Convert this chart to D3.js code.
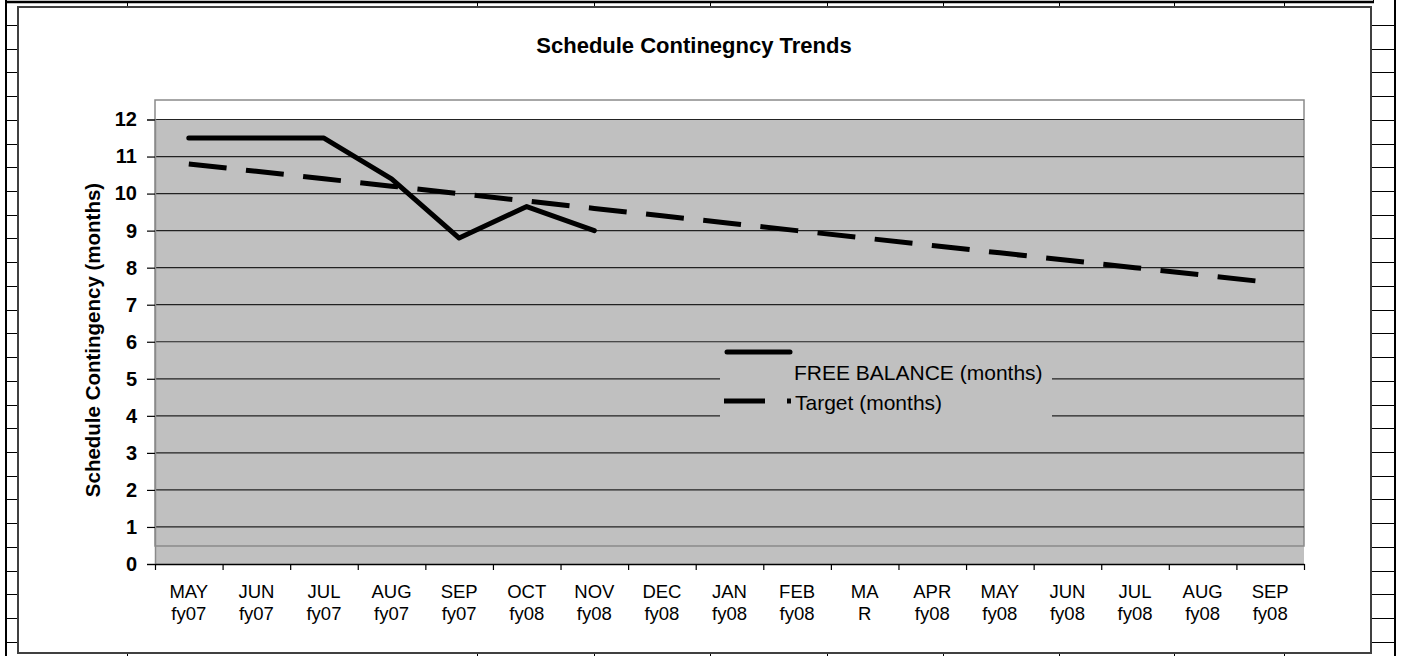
<!DOCTYPE html>
<html>
<head>
<meta charset="utf-8">
<script src="https://cdn.jsdelivr.net/npm/d3@7"></script>
<style>
    body { margin: 0; background: #fff; }
    svg { display: block; font-family: "Liberation Sans", Arial, sans-serif; }
</style>
</head>
<body>
<svg id="chart"></svg>
<script>
const monthLabels = ["MAY", "JUN", "JUL", "AUG", "SEP", "OCT", "NOV", "DEC", "JAN", "FEB", "MA", "APR", "MAY", "JUN", "JUL", "AUG", "SEP"];
const yearLabels = ["fy07", "fy07", "fy07", "fy07", "fy07", "fy08", "fy08", "fy08", "fy08", "fy08", "R", "fy08", "fy08", "fy08", "fy08", "fy08", "fy08"];
const freeBalance = [11.5, 11.5, 11.5, 10.4, 8.8, 9.65, 9.0];
const target = [10.8, 10.6, 10.4, 10.2, 10.0, 9.8, 9.6, 9.4, 9.2, 9.0, 8.8, 8.6, 8.4, 8.2, 8.0, 7.8, 7.6];
const yTicks = [0, 1, 2, 3, 4, 5, 6, 7, 8, 9, 10, 11, 12];
const seriesNames = ["FREE BALANCE (months)", "Target (months)"];

const WIDTH = 1403;
const HEIGHT = 656;
const PLOT = { left: 155, right: 1304, top: 100, bottom: 564, yTop: 119.5, border: 546 };

const svg = d3.select("#chart")
    .attr("width", WIDTH)
    .attr("height", HEIGHT);

// spreadsheet cells behind the chart object
const sheetCols = [127, 477, 594, 710, 827, 943, 1059, 1174, 1284];
const sheetRows = d3.range(25, 650, 23.72);
const sheet = svg.append("g").attr("stroke", "#000");
sheet.append("line").attr("x1", 5).attr("x2", 1374).attr("y1", 2).attr("y2", 2).attr("stroke-width", 2.5);
sheet.append("line").attr("x1", 6).attr("x2", 6).attr("y1", 0).attr("y2", HEIGHT).attr("stroke-width", 2);
sheet.append("line").attr("x1", 1395).attr("x2", 1395).attr("y1", 0).attr("y2", HEIGHT).attr("stroke-width", 2);
sheet.append("line").attr("x1", 1373.5).attr("x2", 1373.5).attr("y1", 0).attr("y2", 3).attr("stroke-width", 1);
sheetRows.forEach(r => {
    sheet.append("line").attr("x1", 6).attr("x2", 18).attr("y1", Math.round(r) + 0.5).attr("y2", Math.round(r) + 0.5);
    sheet.append("line").attr("x1", 1371).attr("x2", 1395).attr("y1", Math.round(r) + 0.5).attr("y2", Math.round(r) + 0.5);
});
sheetCols.forEach(c => {
    sheet.append("line").attr("x1", c + 0.5).attr("x2", c + 0.5).attr("y1", 2).attr("y2", 7);
    sheet.append("line").attr("x1", c + 0.5).attr("x2", c + 0.5).attr("y1", 653).attr("y2", HEIGHT);
});

// chart object border
svg.append("rect")
    .attr("x", 18).attr("y", 7)
    .attr("width", 1353).attr("height", 646)
    .attr("fill", "#fff")
    .attr("stroke", "#404040")
    .attr("stroke-width", 2);

// scales
const xScale = d3.scaleBand()
    .domain(d3.range(monthLabels.length))
    .range([PLOT.left, PLOT.right]);
const xEdge = d3.scaleLinear()
    .domain([0, monthLabels.length])
    .range([PLOT.left, PLOT.right]);
const yScale = d3.scaleLinear()
    .domain([0, 12])
    .range([PLOT.bottom, PLOT.yTop]);
const cx = i => xScale(i) + xScale.bandwidth() / 2;

// plot area
svg.append("rect")
    .attr("x", PLOT.left).attr("y", yScale(12))
    .attr("width", PLOT.right - PLOT.left).attr("height", yScale(0) - yScale(12))
    .attr("fill", "#c0c0c0");
svg.append("rect")
    .attr("x", PLOT.left).attr("y", PLOT.top)
    .attr("width", PLOT.right - PLOT.left).attr("height", PLOT.border - PLOT.top)
    .attr("fill", "none")
    .attr("stroke", "#8a8a8a")
    .attr("stroke-width", 1.5);

// gridlines
svg.append("g")
    .selectAll("line")
    .data(yTicks.filter(d => d > 0))
    .join("line")
    .attr("x1", PLOT.left).attr("x2", PLOT.right)
    .attr("y1", d => yScale(d)).attr("y2", d => yScale(d))
    .attr("stroke", "#222")
    .attr("stroke-width", 1.2);

// y axis
const yAxis = svg.append("g")
    .attr("transform", "translate(" + PLOT.left + ",0)")
    .call(d3.axisLeft(yScale).tickValues(yTicks).tickSize(8).tickPadding(10));
yAxis.select(".domain").attr("stroke", "#8a8a8a").attr("stroke-width", 1.5);
yAxis.selectAll(".tick line").attr("stroke", "#000").attr("stroke-width", 1.2);
yAxis.selectAll(".tick text")
    .attr("font-family", "Liberation Sans, Arial, sans-serif")
    .attr("font-size", 20)
    .attr("font-weight", "bold")
    .attr("fill", "#000");

// x axis (ticks between categories)
const xAxis = svg.append("g")
    .attr("transform", "translate(0," + PLOT.bottom + ")")
    .call(d3.axisBottom(xEdge).ticks(monthLabels.length).tickFormat("").tickSize(6).tickSizeOuter(0));
xAxis.select(".domain").attr("stroke", "#000").attr("stroke-width", 1.5);
xAxis.selectAll(".tick line").attr("stroke", "#000").attr("stroke-width", 1.2);

const xLabels = svg.append("g")
    .attr("font-size", 18.5)
    .attr("text-anchor", "middle")
    .attr("fill", "#000");
xLabels.selectAll(".m")
    .data(monthLabels)
    .join("text")
    .attr("class", "m")
    .attr("x", (d, i) => cx(i))
    .attr("y", 598)
    .text(d => d);
xLabels.selectAll(".f")
    .data(yearLabels)
    .join("text")
    .attr("class", "f")
    .attr("x", (d, i) => cx(i))
    .attr("y", 620)
    .text(d => d);

// lines
const line = d3.line()
    .x((d, i) => cx(i))
    .y(d => yScale(d));

svg.append("path")
    .datum(target)
    .attr("d", line)
    .attr("fill", "none")
    .attr("stroke", "#000")
    .attr("stroke-width", 5)
    .attr("stroke-dasharray", "38,19.5");

svg.append("path")
    .datum(freeBalance)
    .attr("d", line)
    .attr("fill", "none")
    .attr("stroke", "#000")
    .attr("stroke-width", 5)
    .attr("stroke-linejoin", "round")
    .attr("stroke-linecap", "round");

// legend
const legend = svg.append("g");
legend.append("rect")
    .attr("x", 720).attr("y", 347)
    .attr("width", 332).attr("height", 77)
    .attr("fill", "#c0c0c0");
legend.append("line")
    .attr("x1", 727).attr("x2", 790).attr("y1", 352).attr("y2", 352)
    .attr("stroke", "#000").attr("stroke-width", 5).attr("stroke-linecap", "round");
legend.append("line")
    .attr("x1", 724).attr("x2", 791).attr("y1", 401).attr("y2", 401)
    .attr("stroke", "#000").attr("stroke-width", 5).attr("stroke-dasharray", "41,22");
legend.selectAll("text")
    .data(seriesNames)
    .join("text")
    .attr("x", (d, i) => i === 0 ? 794 : 795)
    .attr("y", (d, i) => i === 0 ? 380 : 410)
    .attr("font-size", 21)
    .attr("fill", "#000")
    .text(d => d);

// titles
svg.append("text")
    .attr("x", 694).attr("y", 53)
    .attr("text-anchor", "middle")
    .attr("font-size", 22)
    .attr("font-weight", "bold")
    .text("Schedule Continegncy Trends");

svg.append("text")
    .attr("transform", "translate(100,340) rotate(-90)")
    .attr("text-anchor", "middle")
    .attr("font-size", 20.5)
    .attr("font-weight", "bold")
    .text("Schedule Contingency (months)");
</script>
</body>
</html>
